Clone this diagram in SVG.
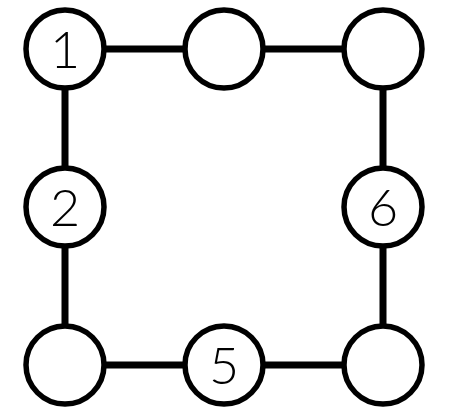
<svg xmlns="http://www.w3.org/2000/svg" width="450" height="420" viewBox="0 0 450 420">
<style>
.edge{stroke:#000;stroke-width:7;fill:none}
.node circle{fill:#fff;stroke:#000;stroke-width:5.5}
.node text{font-family:"Lato","DejaVu Sans",sans-serif;font-weight:300;font-size:52px;text-anchor:middle;fill:#000}
</style>
<rect width="450" height="420" fill="#fff"/>
<g id="connectors">
<line class="edge" x1="65" y1="49" x2="383" y2="49"/>
<line class="edge" x1="65" y1="365" x2="383" y2="365"/>
<line class="edge" x1="65" y1="49" x2="65" y2="365"/>
<line class="edge" x1="383" y1="49" x2="383" y2="365"/>
</g>
<g id="n1" class="node"><circle cx="65" cy="49" r="39"/><text x="65" y="68">1</text></g>
<g id="n3" class="node"><circle cx="224" cy="49" r="39"/></g>
<g id="n4" class="node"><circle cx="383" cy="49" r="39"/></g>
<g id="n2" class="node"><circle cx="65" cy="207" r="39"/><text x="65" y="226">2</text></g>
<g id="n6" class="node"><circle cx="383" cy="207" r="39"/><text x="383" y="226">6</text></g>
<g id="n7" class="node"><circle cx="65" cy="365" r="39"/></g>
<g id="n5" class="node"><circle cx="224" cy="365" r="39"/><text x="224" y="384">5</text></g>
<g id="n8" class="node"><circle cx="383" cy="365" r="39"/></g>
</svg>
